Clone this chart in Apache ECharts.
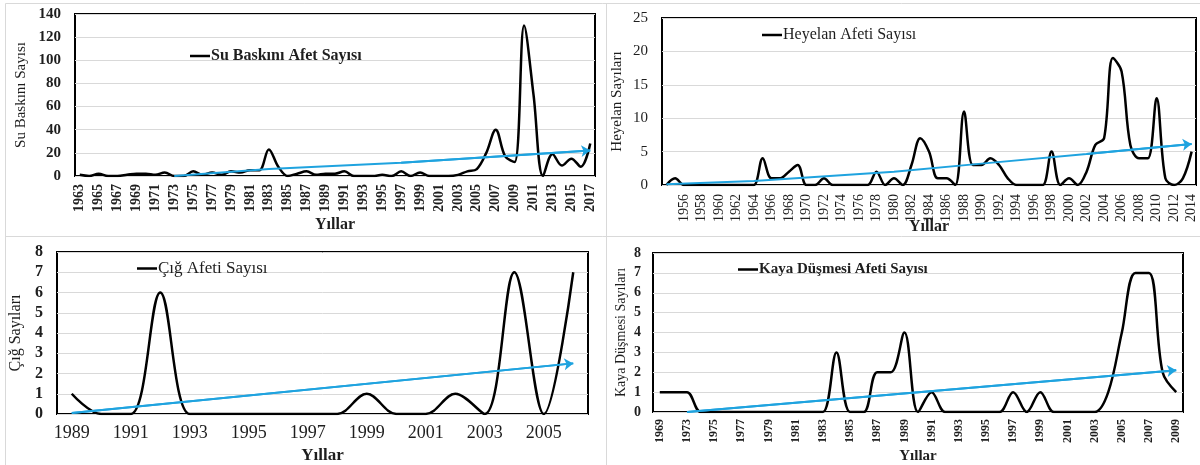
<!DOCTYPE html>
<html><head><meta charset="utf-8">
<script src="https://cdn.jsdelivr.net/npm/echarts@6/dist/echarts.min.js"></script>
<style>html,body{margin:0;padding:0;background:#fff}#c{width:1200px;height:465px}</style>
</head><body><div id="c"></div>
<script>
// ---------- Panel 1: Su Baskını ----------
const floodYears = ['1963','1964','1965','1966','1967','1968','1969','1970','1971','1972','1973','1974','1975','1976','1977','1978','1979','1980','1981','1982','1983','1984','1985','1986','1987','1988','1989','1990','1991','1992','1993','1994','1995','1996','1997','1998','1999','2000','2001','2002','2003','2004','2005','2006','2007','2008','2009','2010','2011','2012','2013','2014','2015','2016','2017'];
const floodValues = [1,0,2,0,0,1,2,2,1,3,0,0,4,1,3,1,4,3,5,5,23,8,0,2,4,1,2,2,4,0,0,0,1,0,4,0,3,0,0,0,1,4,6,20,40,17,12,130,70,0,19,9,15,8,28];
const floodTrendYears = ['1973','1983','1997','2017'];
const floodTrendValues = [0,6,11.5,22];

// ---------- Panel 2: Heyelan ----------
const slideYears = ['1954','1955','1956','1957','1958','1959','1960','1961','1962','1963','1964','1965','1966','1967','1968','1969','1970','1971','1972','1973','1974','1975','1976','1977','1978','1979','1980','1981','1982','1983','1984','1985','1986','1987','1988','1989','1990','1991','1992','1993','1994','1995','1996','1997','1998','1999','2000','2001','2002','2003','2004','2005','2006','2007','2008','2009','2010','2011','2012','2013','2014'];
const slideValues = [0,1,0,0,0,0,0,0,0,0,0,4,1,1,2,3,0,0,1,0,0,0,0,0,2,0,1,0,3,7,5,1,1,0,11,3,3,4,3,1,0,0,0,0,5,0,1,0,2,6,7,19,17,6,4,4,13,1,0,1,5];
const slideTrendYears = ['1954','1964','1980','1990','2002','2014'];
const slideTrendValues = [0.1,0.6,2.0,3.2,4.65,6.15];

// ---------- Panel 3: Çığ ----------
const avYears = ['1989','1990','1991','1992','1993','1994','1995','1996','1997','1998','1999','2000','2001','2002','2003','2004','2005','2006'];
const avValues = [1,0,0,6,0,0,0,0,0,0,1,0,0,1,0,7,0,7];
const avTrendYears = ['1989','2006'];
const avTrendValues = [0.05,2.5];

// ---------- Panel 4: Kaya Düşmesi ----------
const rockYears = ['1969','1971','1973','1974','1975','1976','1977','1978','1979','1980','1981','1982','1983','1984','1985','1986','1987','1988','1989','1990','1991','1992','1993','1994','1995','1996','1997','1998','1999','2000','2001','2002','2003','2004','2005','2006','2007','2008','2009'];
const rockValues = [1,1,1,0,0,0,0,0,0,0,0,0,0,3,0,0,2,2,4,0,1,0,0,0,0,0,1,0,1,0,0,0,0,1,4,7,7,2,1];
const rockTrendYears = ['1973','2009'];
const rockTrendValues = [0,2.1];

const names = ['Su Baskını Afet Sayısı','Heyelan Afeti Sayısı','Çığ Afeti Sayısı','Kaya Düşmesi Afeti Sayısı'];
const yTitles = ['Su Baskını Sayısı','Heyelan Sayıları','Çığ Sayıları','Kaya Düşmesi Sayıları'];
const xTitle = 'Yıllar';

const FONT = "'Liberation Serif','Times New Roman',serif";
const TXT = '#1e1e1e';
const BLUE = '#1fa3df';

const panels = [
  {grid:{left:75,top:14,width:520,height:162}, cats:floodYears, vals:floodValues, ty:floodTrendYears, tv:floodTrendValues,
   ymax:140, yint:20, ylab:{fontSize:15,fontWeight:'bold',margin:14}, xlab:{fontSize:14,fontWeight:'bold',rotate:90,margin:8,interval:1},
   yName:{gap:46,size:15}, xName:{gap:41,size:16}, legend:{left:190,top:48,size:16,weight:'bold'}},
  {grid:{left:662,top:18,width:534,height:167}, cats:slideYears, vals:slideValues, ty:slideTrendYears, tv:slideTrendValues,
   ymax:25, yint:5, ylab:{fontSize:15,fontWeight:'normal',margin:14}, xlab:{fontSize:14,fontWeight:'normal',rotate:90,margin:9,interval:function(i){return i>=2 && i%2===0;}},
   yName:{gap:37,size:15}, xName:{gap:34,size:16}, legend:{left:762,top:27,size:16,weight:'normal'}},
  {grid:{left:57,top:252,width:531,height:164}, cats:avYears, vals:avValues, ty:avTrendYears, tv:avTrendValues,
   ymax:8, yint:1, ylab:{fontSize:16,fontWeight:'bold',margin:14}, xlab:{fontSize:18,fontWeight:'normal',rotate:0,margin:10,interval:1},
   yName:{gap:33,size:16}, xName:{gap:33,size:17}, legend:{left:137,top:260,size:17,weight:'normal'}},
  {grid:{left:653,top:253,width:530,height:163}, cats:rockYears, vals:rockValues, ty:rockTrendYears, tv:rockTrendValues,
   ymax:8, yint:1, ylab:{fontSize:14,fontWeight:'bold',margin:12}, xlab:{fontSize:12,fontWeight:'bold',rotate:90,margin:7,interval:1},
   yName:{gap:25,size:14}, xName:{gap:37,size:15}, legend:{left:738,top:262,size:15,weight:'bold'}}
];

const option = {animation:false, backgroundColor:'#fff', grid:[], xAxis:[], yAxis:[], series:[], legend:[], graphic:[]};

panels.forEach(function(p, i){
  option.grid.push(Object.assign({show:true, borderColor:'#000', borderWidth:2, backgroundColor:'transparent', containLabel:false}, p.grid));
  option.xAxis.push({type:'category', gridIndex:i, data:p.cats, boundaryGap:true,
    axisLine:{show:false}, axisTick:{show:false}, splitLine:{show:false},
    axisLabel:{rotate:p.xlab.rotate, interval:p.xlab.interval, margin:p.xlab.margin, fontFamily:FONT, fontSize:p.xlab.fontSize, fontWeight:p.xlab.fontWeight, color:TXT},
    name:xTitle, nameLocation:'middle', nameGap:p.xName.gap, nameMoveOverlap:false,
    nameTextStyle:{fontFamily:FONT, fontSize:p.xName.size, fontWeight:'bold', color:TXT}});
  option.yAxis.push({type:'value', gridIndex:i, min:0, max:p.ymax, interval:p.yint,
    axisLine:{show:false}, axisTick:{show:false},
    splitLine:{show:true, lineStyle:{color:'#d9d9d9', width:1}},
    axisLabel:{margin:p.ylab.margin, fontFamily:FONT, fontSize:p.ylab.fontSize, fontWeight:p.ylab.fontWeight, color:TXT},
    name:yTitles[i], nameLocation:'middle', nameGap:p.yName.gap, nameMoveOverlap:false,
    nameTextStyle:{fontFamily:FONT, fontSize:p.yName.size, color:TXT}});
  option.series.push({name:names[i], type:'line', xAxisIndex:i, yAxisIndex:i, data:p.vals,
    smooth:0.35, symbol:'none', lineStyle:{color:'#000', width:2.5}, itemStyle:{color:'#000'}, z:3, silent:true});
  const tData = p.ty.map(function(y, k){ return [y, p.tv[k]]; });
  const n = tData.length;
  option.series.push({name:'trend'+i, type:'line', xAxisIndex:i, yAxisIndex:i, data:tData,
    symbol:'none', lineStyle:{color:BLUE, width:2}, itemStyle:{color:BLUE}, z:4, silent:true,
    markLine:{silent:true, symbol:['none','arrow'], symbolSize:9, label:{show:false},
      lineStyle:{color:BLUE, width:2, type:'solid'},
      data:[[{coord:tData[n-2]},{coord:tData[n-1]}]]}});
  option.legend.push({data:[names[i]], left:p.legend.left, top:p.legend.top, icon:'rect', itemWidth:20, itemHeight:2.5,
    itemGap:0, padding:0, selectedMode:false,
    textStyle:{fontFamily:FONT, fontSize:p.legend.size, fontWeight:p.legend.weight, color:TXT, padding:[0,0,0,-4]}});
});

const div = {stroke:'#d9d9d9', lineWidth:1};
option.graphic = [
  {type:'line', shape:{x1:5.5,y1:3.5,x2:1200,y2:3.5}, style:div, silent:true},
  {type:'line', shape:{x1:5.5,y1:3.5,x2:5.5,y2:465}, style:div, silent:true},
  {type:'line', shape:{x1:606.5,y1:3.5,x2:606.5,y2:465}, style:div, silent:true},
  {type:'line', shape:{x1:5.5,y1:236.5,x2:1200,y2:236.5}, style:div, silent:true}
];

const chart = echarts.init(document.getElementById('c'), null, {renderer:'canvas'});
chart.setOption(option);
</script>
</body></html>
